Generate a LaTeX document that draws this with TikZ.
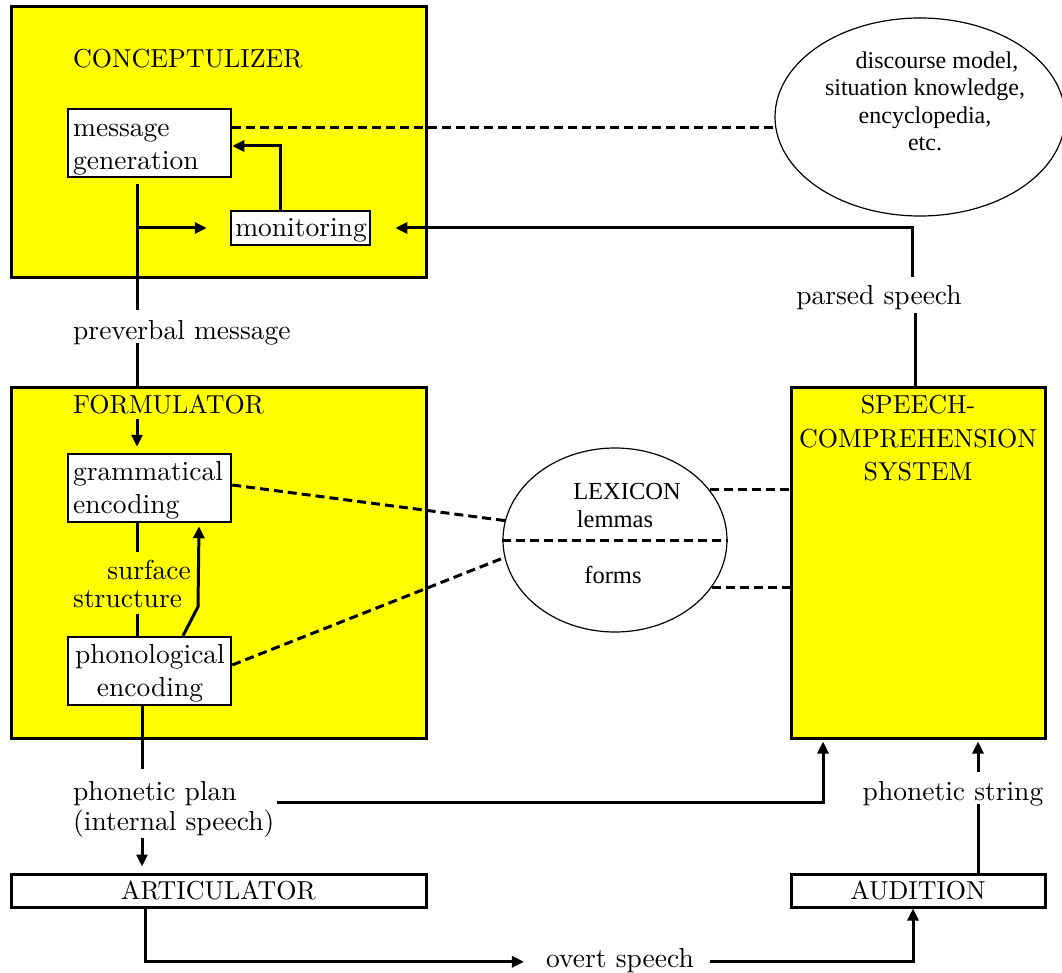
\documentclass[tikz,border=0pt]{standalone}
\usepackage{fontspec}
\setmainfont{lmroman10-regular}[Extension=.otf]
\newfontfamily\tms{Liberation Serif}
\usetikzlibrary{arrows.meta,shapes.geometric,calc}
\definecolor{boxyellow}{HTML}{FFFF00}

\begin{document}
\begin{tikzpicture}[x=1pt,y=-1pt,
  module/.style={draw, fill=boxyellow, line width=3pt, inner sep=0pt},
  proc/.style={draw, fill=white, line width=2.5pt, inner sep=0pt},
  store/.style={draw, ellipse, line width=1.2pt, inner sep=0pt},
  txt/.style={inner sep=0pt, font=\fontsize{27.5}{33}\selectfont},
  title/.style={inner sep=0pt, font=\fontsize{26}{33.5}\selectfont},
  serif/.style={inner sep=0pt, font=\tms\fontsize{24.5}{27.5}\selectfont},
  conn/.style={line width=3pt},
  arr/.style={conn, -{Triangle[length=12pt,width=11pt]}},
  link/.style={line width=3pt, dash pattern=on 9pt off 5pt}]

\useasboundingbox (0,0) rectangle (1062,973);

% processing components
\node[module, minimum width=415pt, minimum height=271pt] (concept) at (218.5,142.5) {};
\node[module, minimum width=415pt, minimum height=351pt] (formul) at (218.5,562.5) {};
\node[module, minimum width=254pt, minimum height=351pt] (speech) at (918,562.5) {};
\node[proc, line width=3pt, minimum width=415pt, minimum height=33pt] (artic) at (218.5,890.5) {};
\node[proc, line width=3pt, minimum width=254pt, minimum height=33pt] (audit) at (918,890.5) {};

\node[proc, minimum width=163pt, minimum height=68pt] (msg) at (149.5,143) {};
\node[proc, minimum width=139pt, minimum height=34pt] (monitor) at (300.5,228) {};
\node[proc, minimum width=163pt, minimum height=68pt] (gram) at (149.5,488) {};
\node[proc, minimum width=163pt, minimum height=68pt] (phon) at (149.5,671) {};

% knowledge stores
\node[store, minimum width=290pt, minimum height=198pt] (world) at (920,117) {};
\node[store, minimum width=224pt, minimum height=184pt] (lex) at (615,540) {};

% component titles
\node[title, anchor=base west] (tConcept) at (73,68) {CONCEPTULIZER};
\node[title, anchor=base west] (tForm) at (73,413) {FORMULATOR};
\node[title, anchor=north, align=center] (tSpeech) at (918,395.2) {SPEECH-\\COMPREHENSION\\SYSTEM};
\node[title, anchor=base] (tArtic) at (218.5,899) {ARTICULATOR};
\node[title, anchor=base] (tAudit) at (918,899) {AUDITION};

% box texts
\node[txt, anchor=base west] (tMsgA) at (73,137) {message};
\node[txt, anchor=base west] (tMsgB) at (73,170) {generation};
\node[txt, anchor=base] (tMon) at (301,237) {monitoring};
\node[txt, anchor=base west] (tGramA) at (73,480) {grammatical};
\node[txt, anchor=base west] (tGramB) at (73,513) {encoding};
\node[txt, anchor=base] (tPhonA) at (150,663) {phonological};
\node[txt, anchor=base] (tPhonB) at (150,696) {encoding};

% store texts
\node[serif, anchor=north, align=center, font=\tms\fontsize{24}{27.5}\selectfont] (tWorld) at (925,51.6)
  {\hspace*{24pt}discourse model,\\situation knowledge,\\encyclopedia,\\etc.};
\node[serif, anchor=base] (tLex) at (627,499) {LEXICON};
\node[serif, anchor=base] (tLemma) at (615,527) {lemmas};
\node[serif, anchor=base] (tForms) at (613,583) {forms};

% connector labels
\node[txt, anchor=base west] (lblPre) at (73,339) {preverbal message};
\node[txt, anchor=base east] (lblSurf) at (191,579) {surface};
\node[txt, anchor=base west] (lblStruct) at (73,607) {structure};
\node[txt, anchor=base] (lblParsed) at (879,305) {parsed speech};
\node[txt, anchor=base west] (lblPlan) at (73,800) {phonetic plan};
\node[txt, anchor=base west] (lblInt) at (73,830) {(internal speech)};
\node[txt, anchor=base] (lblString) at (953,800) {phonetic string};
\node[txt, anchor=base] (lblOvert) at (620,967) {overt speech};

% vertical trunks
\coordinate (trunk) at (137,0);
\coordinate (plan) at (142,0);
\coordinate (artx) at (145,0);
\coordinate (msgLink) at ($(msg.east)+(0,-15)$);

% conceptualizer
\draw[conn] ($(msg.south -| trunk)+(0,6)$) -- ($(lblPre.north -| trunk)+(0,-10)$);
\draw[arr] (monitor.west -| trunk) -- ($(monitor.west)+(-23,0)$);
\draw[arr] ($(monitor.north)+(-20.5,0)$) |- ($(msg.east)+(0,3)$);
\draw[link] (msgLink) -- (msgLink -| world.west);
\draw[arr] ($(lblParsed.north)+(33,-8.5)$) |- ($(monitor.east)+(24,0)$);
\draw[conn] ($(lblParsed.south)+(36,2)$) -- ($(speech.north)+(-3,0)$);

% formulator
\draw[conn] ($(lblPre.south -| trunk)+(0,-2)$) -- (formul.north -| trunk);
\draw[arr] ($(tForm.south -| trunk)+(0,5)$) -- ($(gram.north -| trunk)+(0,-6)$);
\draw[conn] (gram.south -| trunk) -- ($(lblSurf.north -| trunk)+(0,-7)$);
\draw[conn] ($(lblStruct.south -| trunk)+(0,6)$) -- (phon.north -| trunk);
\draw[arr] ($(phon.north)+(33.5,0)$) -- ++(15,-29) -- ($(gram.south)+(49.5,3)$);
\draw[link] ($(gram.east)+(0,-3)$) -- (lex.170);
\draw[link] ($(phon.east)+(0,-6)$) -- (lex.189);

% lexicon and comprehension
\draw[link] (lex.west) -- (lex.east);
\draw[link] (lex.28) -- (lex.28 -| speech.west);
\draw[link] (lex.334) -- (lex.334 -| speech.west);

% articulation and audition
\draw[conn] (phon.south -| plan) -- ($(lblPlan.north -| plan)+(0,-12)$);
\draw[arr] ($(lblInt.south -| plan)+(0,0.5)$) -- ($(artic.north -| plan)+(0,-6)$);
\draw[arr] ($(lblInt.north east)+(2,-7)$) -| ($(speech.south)+(-95,2)$);
\draw[arr] (artic.south -| artx) |- ($(lblOvert.west)+(-22,1.65)$);
\draw[arr] ($(lblOvert.east)+(16,1.65)$) -| ($(audit.south)+(-5,0)$);
\draw[conn] ($(audit.north)+(60,0)$) -- ($(lblString.south)+(25,-2)$);
\draw[arr] ($(lblString.north)+(25,-9)$) -- ($(speech.south)+(60,2)$);

\end{tikzpicture}
\end{document}
